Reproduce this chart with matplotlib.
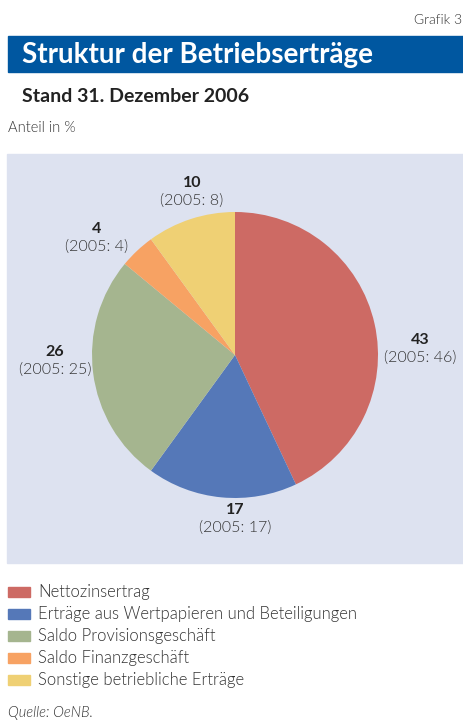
import matplotlib
matplotlib.use("Agg")
import matplotlib.pyplot as plt
from matplotlib.patches import Rectangle
import numpy as np

plt.rcParams['font.family'] = ['Lato', 'DejaVu Sans']

categories = ["Nettozinsertrag",
              "Erträge aus Wertpapieren und Beteiligungen",
              "Saldo Provisionsgeschäft",
              "Saldo Finanzgeschäft",
              "Sonstige betriebliche Erträge"]
values_2006 = [43, 17, 26, 4, 10]
values_2005 = [46, 17, 25, 4, 8]
colors = ["#CD6A64", "#5578B8", "#A5B58F", "#F7A263", "#EFD074"]

W, H = 464, 727
fig = plt.figure(figsize=(W / 100, H / 100), dpi=100)

LW = 300  # light weight

def fx(x):
    return x / W

def fy(y):
    return 1 - y / H

# header
fig.text(fx(462), fy(20), "Grafik 3", ha="right", va="center", fontsize=10,
         color="#333333", fontweight=LW)
fig.patches.append(Rectangle((fx(8), fy(72)), fx(464) - fx(8), fy(36) - fy(72),
                             transform=fig.transFigure, color="#0057A0", zorder=-1))
fig.text(fx(22), fy(55), "Struktur der Betriebserträge", ha="left", va="center",
         fontsize=20, fontweight="bold", color="white")
fig.text(fx(22), fy(97), "Stand 31. Dezember 2006", ha="left", va="center",
         fontsize=14, fontweight="bold", color="#222222")
fig.text(fx(8), fy(128), "Anteil in %", ha="left", va="center",
         fontsize=10.5, fontweight=LW, color="#333333")

# panel background
fig.patches.append(Rectangle((fx(7), fy(563)), fx(464) - fx(7), fy(154) - fy(563),
                             transform=fig.transFigure, color="#DDE2F0", zorder=-1))

# pie
cx, cy, r = 235, 355, 143
ax = fig.add_axes([fx(cx - r), fy(cy + r), fx(2 * r), fy(cy - r) - fy(cy + r)])
ax.set_zorder(2)
ax.patch.set_visible(False)
ax.pie(values_2006, colors=colors, startangle=90, counterclock=False, radius=1,
       wedgeprops=dict(linewidth=0))
ax.set_xlim(-1, 1)
ax.set_ylim(-1, 1)
ax.axis("off")

# labels (positions in pixels)
label_pos = [(420, 340), (235, 510), (55, 352), (97, 229), (192, 183)]
for (lx, ly), v6, v5 in zip(label_pos, values_2006, values_2005):
    fig.text(fx(lx), fy(ly), str(v6), ha="center", va="center", fontsize=11.5,
             fontweight="bold", color="#222222")
    fig.text(fx(lx), fy(ly + 18), f"(2005: {v5})", ha="center", va="center",
             fontsize=11.5, fontweight=LW, color="#333333")

# legend
for i, (cat, col) in enumerate(zip(categories, colors)):
    y = 592 + i * 22
    fig.patches.append(Rectangle((fx(8), fy(y + 5)), fx(30) - fx(8), fy(y - 5) - fy(y + 5),
                                 transform=fig.transFigure, color=col))
    fig.text(fx(38), fy(y), cat, ha="left", va="center", fontsize=12,
             fontweight=LW, color="#333333")

fig.text(fx(8), fy(713), "Quelle: OeNB.", ha="left", va="center", fontsize=10.5,
         fontstyle="italic", fontweight=LW, color="#333333")

fig.savefig("out.png", dpi=100)
